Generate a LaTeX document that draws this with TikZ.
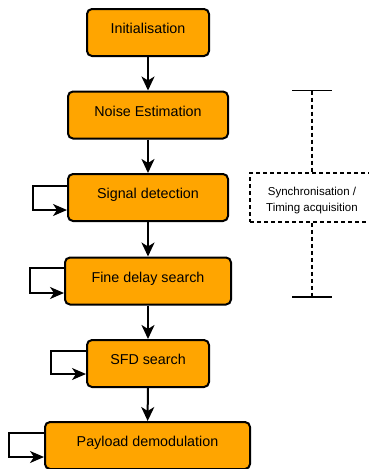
\documentclass[tikz,border=0pt]{standalone}
\usepackage{fontspec}
\setmainfont{Liberation Sans}
\usetikzlibrary{arrows.meta,calc}
\definecolor{stageorange}{HTML}{FFA500}
\tikzset{
  stage/.style={draw=black, line width=2pt, fill=stageorange, rounded corners=5pt,
    minimum height=47pt, inner sep=0pt, text height=10.5pt, text depth=8pt,
    font=\fontsize{14.3}{17}\selectfont},
  flow/.style={draw=black, line width=2pt, -{Stealth[length=14pt,width=13pt,inset=4pt]}},
  selfloop/.style={draw=black, line width=1.6pt, -{Stealth[length=14pt,width=12pt,inset=4pt]}},
  groupbox/.style={draw=black, line width=1.5pt, dash pattern=on 4pt off 3pt,
    minimum width=124pt, minimum height=49pt, inner sep=0pt, align=center,
    text height=30pt, text depth=2.4pt,
    font=\fontsize{11.5}{16}\selectfont},
  groupline/.style={draw=black, line width=1.5pt, dash pattern=on 4pt off 3pt},
  bar/.style={draw=black, line width=1.6pt}
}
\begin{document}
\begin{tikzpicture}[x=1pt, y=-1pt]
\useasboundingbox (0,0) rectangle (369,469);

% processing stages
\node[stage, minimum width=122pt] (init)  at (148,32.5) {Initialisation};
\node[stage, minimum width=160pt] (noise) at (148,115)  {Noise Estimation};
\node[stage, minimum width=160pt] (sig)   at (148,197.5) {Signal detection};
\node[stage, minimum width=166pt] (fine)  at (148,281)  {Fine delay search};
\node[stage, minimum width=122pt] (sfd)   at (148,363.5) {SFD search};
\node[stage, minimum width=205pt] (pay)   at (147.5,445.5) {Payload demodulation};

% main flow
\draw[flow] (init) -- (noise);
\draw[flow] (noise) -- (sig);
\draw[flow] (sig) -- (fine);
\draw[flow] (fine) -- (sfd);
\draw[flow] (sfd) -- (pay);

% repeat loops on the left
\draw[selfloop] ([shift={(0,-11.5)}]sig.west) -- ++(-34,0) |- ([shift={(0,12.5)}]sig.west);
\draw[selfloop] ([shift={(0,-13)}]fine.west) -- ++(-34,0) |- ([shift={(0,12)}]fine.west);
\draw[selfloop] ([shift={(0,-12.5)}]sfd.west) -- ++(-35,0) |- ([shift={(0,10.5)}]sfd.west);
\draw[selfloop] ([shift={(0,-12.5)}]pay.west) -- ++(-35,0) |- ([shift={(0,11.5)}]pay.west);

% synchronisation span
\node[groupbox] (sync) at (312,197.5) {Synchronisation /\\Timing acquisition};
\coordinate (spantop) at (312,90.5);
\coordinate (spanbot) at (312,297);
\draw[bar] ([xshift=-20pt]spantop) -- ([xshift=20pt]spantop);
\draw[bar] ([xshift=-20pt]spanbot) -- ([xshift=20pt]spanbot);
\draw[groupline] (spantop) -- (sync.north);
\draw[groupline] (sync.south) -- (spanbot);
\end{tikzpicture}
\end{document}
